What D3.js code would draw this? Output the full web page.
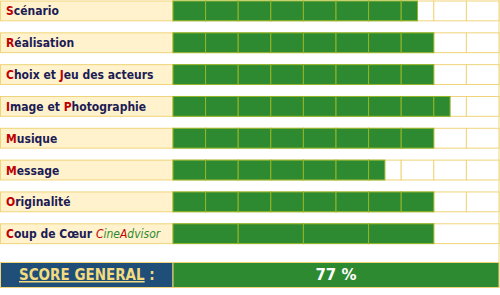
<!DOCTYPE html>
<html>
<head>
<meta charset="utf-8">
<script src="https://cdn.jsdelivr.net/npm/d3@7"></script>
<style>
  body { margin: 0; background: #fff; }
  svg { display: block; }
</style>
</head>
<body>
<div id="chart"></div>
<script>
"use strict";

const categories = ["Scénario", "Réalisation", "Choix et Jeu des acteurs", "Image et Photographie",
    "Musique", "Message", "Originalité", "Coup de Cœur CineAdvisor"];
const scores = [7.5, 8, 8, 8.5, 8, 6.5, 8, 4];
const maxScores = [10, 10, 10, 10, 10, 10, 10, 5];
// indexes of the letters written in red
const redLetters = [[0], [0], [0, 9], [0, 9], [0], [0], [0], [0, 13, 17]];
const brand = "CineAdvisor";
const scoreLabel = "SCORE GENERAL";
const scoreText = "77 %";

const msm = {
    width: 500,
    height: 295,
    labelW: 173,
    right: 499,
    top: 1,
    rowsBottom: 243.6,
    scoreTop: 262.5,
    scoreH: 25
}

const col = {
    cream: "#fff2cc",
    gold: "#f0d47a",
    green: "#2e8a30",
    greenLine: "#93b52a",
    navy: "#1c1c55",
    red: "#c00000",
    blue: "#1f4e79",
    scoreTxt: "#f3db7e"
}

const svg = d3.select("#chart").append("svg")
    .attr("width", msm.width)
    .attr("height", msm.height);

const x = d3.scaleLinear().domain([0, 1]).range([msm.labelW, msm.right]);
const y = d3.scaleBand()
    .domain(categories)
    .range([msm.top, msm.rowsBottom])
    .paddingInner(0.3774)
    .paddingOuter(0);

// right frame line
svg.append("line")
    .attr("x1", msm.right).attr("x2", msm.right)
    .attr("y1", 0).attr("y2", msm.scoreTop + msm.scoreH)
    .attr("stroke", col.gold).attr("stroke-width", 1);

const rows = svg.selectAll("g.row")
    .data(categories)
    .enter()
    .append("g")
    .attr("class", "row")
    .attr("transform", d => "translate(0," + y(d) + ")");

rows.append("rect")
    .attr("x", 0.5)
    .attr("y", 0)
    .attr("width", msm.labelW - 0.5)
    .attr("height", y.bandwidth())
    .attr("fill", col.cream)
    .attr("stroke", col.gold)
    .attr("stroke-width", 1);

// empty cells
rows.each(function (d, i) {
    const g = d3.select(this);
    const n = maxScores[i];
    const cells = d3.range(n);
    const cw = x(1 / n) - x(0);
    g.selectAll("rect.cell")
        .data(cells)
        .enter()
        .append("rect")
        .attr("class", "cell")
        .attr("x", c => x(c / n))
        .attr("y", 0)
        .attr("width", cw)
        .attr("height", y.bandwidth())
        .attr("fill", "#fff")
        .attr("stroke", col.gold)
        .attr("stroke-width", 1);
    g.selectAll("rect.fill")
        .data(cells.filter(c => scores[i] - c > 0))
        .enter()
        .append("rect")
        .attr("class", "fill")
        .attr("x", c => x(c / n))
        .attr("y", 0)
        .attr("width", c => cw * Math.min(1, scores[i] - c))
        .attr("height", y.bandwidth())
        .attr("fill", col.green)
        .attr("stroke", col.greenLine)
        .attr("stroke-width", 1);
});

// labels with red initials and brand name
rows.append("text")
    .attr("x", 6)
    .attr("y", y.bandwidth() / 2 + 4.5)
    .style("font-family", "'DejaVu Sans Condensed', 'DejaVu Sans', sans-serif")
    .style("font-size", "12px")
    .style("font-weight", "bold")
    .each(function (d, i) {
        const t = d3.select(this);
        const bStart = d.indexOf(brand);
        const chars = Array.from(d);
        chars.forEach((ch, k) => {
            const inBrand = bStart >= 0 && k >= bStart;
            const isRed = redLetters[i].includes(k);
            t.append("tspan")
                .text(ch)
                .attr("fill", isRed ? col.red : (inBrand ? col.green : col.navy))
                .style("font-style", inBrand ? "italic" : "normal")
                .style("font-weight", inBrand ? "normal" : "bold");
        });
    });

// score row
svg.append("rect")
    .attr("x", 0.5)
    .attr("y", msm.scoreTop)
    .attr("width", msm.labelW - 0.5)
    .attr("height", msm.scoreH)
    .attr("fill", col.blue)
    .attr("stroke", col.gold)
    .attr("stroke-width", 1);

svg.append("rect")
    .attr("x", msm.labelW)
    .attr("y", msm.scoreTop)
    .attr("width", msm.right - msm.labelW)
    .attr("height", msm.scoreH)
    .attr("fill", col.green)
    .attr("stroke", col.gold)
    .attr("stroke-width", 1);

const st = svg.append("text")
    .attr("x", 19)
    .attr("y", msm.scoreTop + 17.5)
    .style("font-family", "'DejaVu Sans Condensed', 'DejaVu Sans', sans-serif")
    .style("font-size", "15px")
    .style("font-weight", "bold")
    .attr("fill", col.scoreTxt);
st.append("tspan").text(scoreLabel).style("text-decoration", "underline");
st.append("tspan").text(" :");

svg.append("text")
    .attr("x", (msm.labelW + msm.right) / 2)
    .attr("y", msm.scoreTop + 17.5)
    .attr("text-anchor", "middle")
    .style("font-family", "'DejaVu Sans', sans-serif")
    .style("font-size", "15px")
    .style("font-weight", "bold")
    .attr("fill", "#fff")
    .text(scoreText);
</script>
</body>
</html>
